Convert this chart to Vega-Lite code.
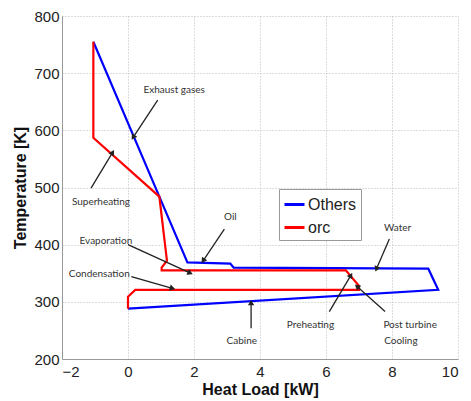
{
  "$schema": "https://vega.github.io/schema/vega-lite/v6.json",
  "width": 396,
  "height": 343,
  "autosize": {"type": "none"},
  "padding": {"left": 62, "top": 16, "right": 13, "bottom": 42},
  "background": "white",
  "config": {
    "view": {"stroke": null},
    "font": "Liberation Sans",
    "axis": {
      "labelFont": "Liberation Sans",
      "labelFontSize": 15,
      "labelColor": "#222",
      "titleFont": "Liberation Sans",
      "titleFontSize": 16,
      "titleFontWeight": "bold",
      "titleColor": "#111",
      "domainColor": "#999",
      "ticks": false,
      "gridColor": "#bbb",
      "gridDash": [1, 2],
      "gridWidth": 1
    }
  },
  "datasets": {
    "curves": [
      {"series": "Others", "i": 1, "load": -1.05, "temp": 755},
      {"series": "Others", "i": 2, "load": 0.95, "temp": 484},
      {"series": "Others", "i": 3, "load": 1.8, "temp": 369},
      {"series": "Others", "i": 4, "load": 3.1, "temp": 367},
      {"series": "Others", "i": 5, "load": 3.2, "temp": 360},
      {"series": "Others", "i": 6, "load": 9.1, "temp": 358},
      {"series": "Others", "i": 7, "load": 9.4, "temp": 321},
      {"series": "Others", "i": 8, "load": 0.0, "temp": 288},
      {"series": "orc", "i": 1, "load": -1.05, "temp": 755},
      {"series": "orc", "i": 2, "load": -1.05, "temp": 587},
      {"series": "orc", "i": 3, "load": 0.95, "temp": 484},
      {"series": "orc", "i": 4, "load": 1.18, "temp": 372},
      {"series": "orc", "i": 5, "load": 1.02, "temp": 360},
      {"series": "orc", "i": 6, "load": 1.02, "temp": 355},
      {"series": "orc", "i": 7, "load": 6.6, "temp": 355},
      {"series": "orc", "i": 8, "load": 7.0, "temp": 328},
      {"series": "orc", "i": 9, "load": 7.0, "temp": 321},
      {"series": "orc", "i": 10, "load": 0.22, "temp": 321},
      {"series": "orc", "i": 11, "load": 0.0, "temp": 309},
      {"series": "orc", "i": 12, "load": 0.0, "temp": 288}
    ],
    "labels": [
      {"label": "Exhaust gases", "load": 1.4, "temp": 671},
      {"label": "Superheating", "load": -0.82, "temp": 474},
      {"label": "Oil", "load": 3.1, "temp": 449},
      {"label": "Evaporation", "load": -0.67, "temp": 407},
      {"label": "Condensation", "load": -0.87, "temp": 349},
      {"label": "Water", "load": 8.17, "temp": 429},
      {"label": "Preheating", "load": 5.53, "temp": 259},
      {"label": "Post turbine", "load": 8.55, "temp": 259},
      {"label": "Cooling", "load": 8.27, "temp": 232},
      {"label": "Cabine", "load": 3.45, "temp": 232}
    ],
    "arrows": [
      {"name": "Exhaust gases", "load": 0.9, "temp": 653, "load2": 0.17, "temp2": 589, "dir": 213},
      {"name": "Superheating", "load": -1.12, "temp": 499, "load2": -0.48, "temp2": 560, "dir": 31},
      {"name": "Oil", "load": 2.92, "temp": 427, "load2": 2.29, "temp2": 373, "dir": 214},
      {"name": "Evaporation", "load": 0.0, "temp": 400, "load2": 1.86, "temp2": 351, "dir": 114},
      {"name": "Condensation", "load": 0.1, "temp": 344, "load2": 1.32, "temp2": 324, "dir": 106},
      {"name": "Water", "load": 7.92, "temp": 410, "load2": 7.54, "temp2": 359, "dir": 203},
      {"name": "Preheating", "load": 6.1, "temp": 283, "load2": 6.74, "temp2": 345, "dir": 30},
      {"name": "Post turbine", "load": 7.79, "temp": 283, "load2": 6.96, "temp2": 326, "dir": 312},
      {"name": "Cabine", "load": 3.73, "temp": 254, "load2": 3.73, "temp2": 297, "dir": 0}
    ]
  },
  "layer": [
    {
      "data": {"name": "curves"},
      "mark": {"type": "line", "strokeWidth": 2.2, "strokeJoin": "miter"},
      "encoding": {
        "x": {
          "field": "load", "type": "quantitative",
          "scale": {"domain": [-2, 10], "nice": false},
          "axis": {"values": [-2, 0, 2, 4, 6, 8, 10], "title": "Heat Load [kW]", "labelPadding": 5, "titlePadding": 2, "grid": true}
        },
        "y": {
          "field": "temp", "type": "quantitative",
          "scale": {"domain": [200, 800], "nice": false, "zero": false},
          "axis": {"values": [200, 300, 400, 500, 600, 700, 800], "title": "Temperature [K]", "labelPadding": 3, "titlePadding": 5, "grid": true}
        },
        "color": {
          "field": "series", "type": "nominal",
          "scale": {"domain": ["Others", "orc"], "range": ["#0000ff", "#ff0000"]},
          "legend": {
            "title": null,
            "orient": "none",
            "legendX": 217,
            "legendY": 173,
            "symbolType": "stroke",
            "symbolSize": 400,
            "symbolStrokeWidth": 3,
            "labelFont": "Liberation Sans",
            "labelFontSize": 16,
            "labelColor": "#222",
            "labelOffset": 2,
            "rowPadding": 3,
            "padding": 4,
            "strokeColor": "#999",
            "fillColor": "white"
          }
        },
        "order": {"field": "i", "type": "quantitative"}
      }
    },
    {
      "data": {"name": "arrows"},
      "mark": {"type": "rule", "color": "#222", "strokeWidth": 1.3},
      "encoding": {
        "x": {"field": "load", "type": "quantitative"},
        "y": {"field": "temp", "type": "quantitative"},
        "x2": {"field": "load2"},
        "y2": {"field": "temp2"}
      }
    },
    {
      "data": {"name": "arrows"},
      "mark": {"type": "point", "shape": "triangle", "filled": true, "color": "#222", "size": 40, "opacity": 1},
      "encoding": {
        "x": {"field": "load2", "type": "quantitative"},
        "y": {"field": "temp2", "type": "quantitative"},
        "angle": {"field": "dir", "type": "quantitative", "scale": null}
      }
    },
    {
      "data": {"name": "labels"},
      "mark": {"type": "text", "font": "Lato", "fontSize": 10, "color": "#333", "align": "center", "baseline": "middle"},
      "encoding": {
        "x": {"field": "load", "type": "quantitative"},
        "y": {"field": "temp", "type": "quantitative"},
        "text": {"field": "label"}
      }
    }
  ]
}
